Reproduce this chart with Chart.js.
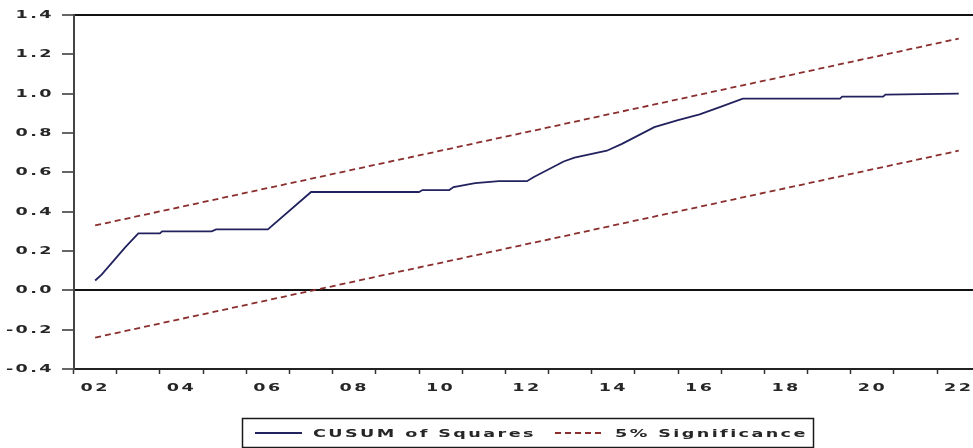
<!DOCTYPE html>
<html>
<head>
<meta charset="utf-8">
<script src="https://cdn.jsdelivr.net/npm/chart.js@4.4.1/dist/chart.umd.min.js"></script>
<style>
  html, body { margin: 0; padding: 0; background: #fff; }
  #wrap { width: 973px; height: 448px; position: relative; }
</style>
</head>
<body>
<div id="wrap"><canvas id="c"></canvas></div>
<script>
// CUSUM of squares of recursive residuals with 5% significance bounds
const obsTime = [2002.0, 2002.15, 2002.7, 2003.0, 2003.5, 2003.55, 2004.7, 2004.8, 2006.0, 2007.0,
                 2009.5, 2009.58, 2010.2, 2010.3, 2010.8, 2011.35, 2012.0, 2012.15, 2012.85, 2013.1,
                 2013.85, 2014.2, 2014.95, 2015.5, 2016.0, 2016.45, 2017.0, 2019.25, 2019.3, 2020.25,
                 2020.3, 2022.0];
const cusumSq = [0.05, 0.08, 0.22, 0.29, 0.29, 0.30, 0.30, 0.31, 0.31, 0.50,
                 0.50, 0.51, 0.51, 0.525, 0.545, 0.555, 0.555, 0.575, 0.655, 0.675,
                 0.71, 0.745, 0.83, 0.865, 0.895, 0.93, 0.975, 0.975, 0.985, 0.985,
                 0.995, 1.0];
const boundTime  = [2002, 2022];
const upperBound = [0.33, 1.28];
const lowerBound = [-0.24, 0.71];

const labelYears = [2002, 2004, 2006, 2008, 2010, 2012, 2014, 2016, 2018, 2020, 2022];
const yearLabels = ['02', '04', '06', '08', '10', '12', '14', '16', '18', '20', '22'];
const yTicks = [-0.4, -0.2, 0.0, 0.2, 0.4, 0.6, 0.8, 1.0, 1.2, 1.4];

const seriesNames = ['CUSUM of Squares', '5% Significance'];
const cusumColor = '#22225e';
const boundColor = '#8a2e2e';
const textColor = '#262626';
const AXIS_FONT = { family: '"DejaVu Sans", sans-serif', size: 11, weight: 'bold' };
const TEXT_STRETCH = 1.6;
const LETTER_GAP = '1.5px';

const pts = (xs, ys) => xs.map((x, i) => ({ x: x, y: ys[i] }));

// wide, spaced lettering: every label is drawn horizontally stretched about its anchor
const wideText = {
  id: 'wideText',
  beforeInit(chart) {
    const ctx = chart.ctx;
    const plain = ctx.fillText;
    ctx.fillText = function (t, x, y) {
      this.save();
      this.translate(x, y);
      this.scale(TEXT_STRETCH, 1);
      plain.call(this, t, 0, 0);
      this.restore();
    };
  },
  beforeLayout(chart) { chart.ctx.letterSpacing = LETTER_GAP; },
  beforeDraw(chart) { chart.ctx.letterSpacing = LETTER_GAP; }
};

// framed legend below the axis
const boxedLegend = {
  id: 'boxedLegend',
  afterDraw(chart) {
    const ctx = chart.ctx;
    ctx.save();
    ctx.letterSpacing = LETTER_GAP;
    ctx.setLineDash([]);
    ctx.strokeStyle = '#1a1a1a';
    ctx.lineWidth = 1.5;
    ctx.strokeRect(242.5, 418.5, 571, 29);
    const cy = 433;
    ctx.lineWidth = 1.8;
    ctx.strokeStyle = cusumColor;
    ctx.beginPath(); ctx.moveTo(255, cy); ctx.lineTo(302, cy); ctx.stroke();
    ctx.strokeStyle = boundColor;
    ctx.setLineDash([6, 4]);
    ctx.beginPath(); ctx.moveTo(555, cy); ctx.lineTo(602, cy); ctx.stroke();
    ctx.setLineDash([]);
    ctx.fillStyle = textColor;
    ctx.font = 'bold 11px "DejaVu Sans", sans-serif';
    ctx.textBaseline = 'middle';
    ctx.textAlign = 'left';
    ctx.fillText(chart.data.datasets[0].label, 313, cy + 1);
    ctx.fillText(chart.data.datasets[1].label, 615, cy + 1);
    ctx.restore();
  }
};

new Chart(document.getElementById('c'), {
  type: 'line',
  data: {
    datasets: [
      { label: seriesNames[0], data: pts(obsTime, cusumSq), borderColor: cusumColor,
        borderWidth: 1.8, pointRadius: 0, tension: 0, fill: false },
      { label: seriesNames[1], data: pts(boundTime, upperBound), borderColor: boundColor,
        borderWidth: 1.8, borderDash: [6, 4], pointRadius: 0, tension: 0, fill: false },
      { label: seriesNames[1] + ' (lower)', data: pts(boundTime, lowerBound), borderColor: boundColor,
        borderWidth: 1.8, borderDash: [6, 4], pointRadius: 0, tension: 0, fill: false }
    ]
  },
  options: {
    responsive: true,
    maintainAspectRatio: false,
    animation: false,
    layout: { padding: { top: 15, right: 0, left: 0, bottom: 0 } },
    plugins: { legend: { display: false }, tooltip: { enabled: false } },
    scales: {
      x: {
        type: 'linear',
        min: 2001.51,
        max: 2022.33,
        border: { display: true, color: '#222', width: 2 },
        grid: {
          drawOnChartArea: false,
          drawTicks: true,
          tickLength: 5,
          tickWidth: 1.5,
          tickColor: c => (Number.isInteger(c.tick.value) ? 'rgba(0,0,0,0)' : '#333')
        },
        afterBuildTicks(scale) {
          const t = [];
          for (let y = 2001.5; y < 2022; y += 1) t.push({ value: y });
          labelYears.forEach(v => t.push({ value: v }));
          t.sort((a, b) => a.value - b.value);
          scale.ticks = t;
        },
        afterFit(scale) { scale.height = 79; scale.paddingLeft = 0; scale.paddingRight = 0; },
        ticks: {
          autoSkip: false,
          maxRotation: 0,
          padding: 8,
          color: textColor,
          font: AXIS_FONT,
          callback: v => { const i = labelYears.indexOf(v); return i >= 0 ? yearLabels[i] : ''; }
        }
      },
      y: {
        min: -0.4,
        max: 1.4,
        border: { display: true, color: '#444', width: 2 },
        grid: {
          drawOnChartArea: true,
          drawTicks: true,
          tickLength: 12,
          tickWidth: 1.5,
          tickColor: '#333',
          color: c => (Math.abs(c.tick.value) < 1e-9 || Math.abs(c.tick.value - 1.4) < 1e-9 ? '#111' : 'rgba(0,0,0,0)'),
          lineWidth: 2
        },
        afterBuildTicks(scale) { scale.ticks = yTicks.map(v => ({ value: v })); },
        afterFit(scale) { scale.width = 74; },
        ticks: {
          padding: 8,
          color: textColor,
          font: AXIS_FONT,
          callback: v => v.toFixed(1)
        }
      }
    }
  },
  plugins: [wideText, boxedLegend]
});
</script>
</body>
</html>
